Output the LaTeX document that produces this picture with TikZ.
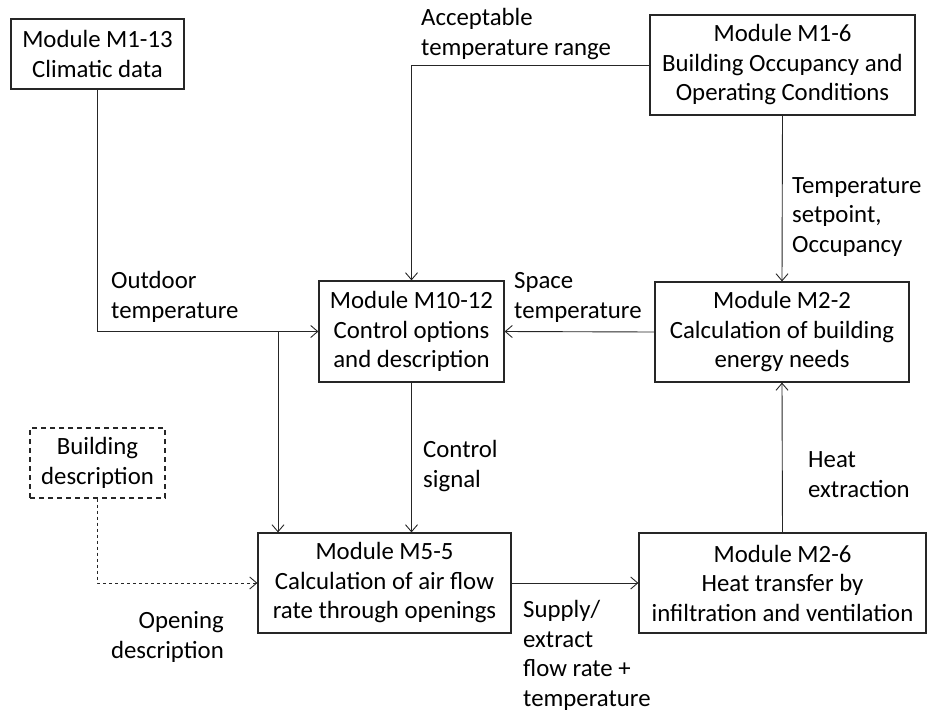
\documentclass[tikz,border=0pt]{standalone}
\usepackage{fontspec}
\setmainfont{Carlito}
\usetikzlibrary{arrows.meta}
\begin{document}
\begin{tikzpicture}[x=1pt,y=-1pt,
  font=\fontsize{24.8}{29.5}\selectfont,
  modbox/.style={draw=black!85,line width=1.2pt,inner sep=0pt,align=center},
  dashbox/.style={modbox,dash pattern=on 5pt off 4pt},
  conn/.style={draw=black!85,line width=0.9pt,-{Straight Barb[length=7pt,width=12pt,line width=0.9pt]}},
  dotconn/.style={conn,dash pattern=on 3pt off 3pt},
  lbl/.style={inner sep=0pt,align=left,anchor=base west},
  lblr/.style={inner sep=0pt,align=right,anchor=base east}]
\useasboundingbox (0,0) rectangle (930,713);
\node[modbox,minimum width=173pt,minimum height=70pt] (m113) at (97.5,54) {Module M1-13\\Climatic data};
\node[modbox,minimum width=265pt,minimum height=100pt] (m16) at (782.5,65) {Module M1-6\\Building Occupancy and\\Operating Conditions};
\node[modbox,minimum width=185pt,minimum height=101pt] (m1012) at (411.5,331.5) {Module M10-12\\Control options\\and description};
\node[modbox,minimum width=254pt,minimum height=100pt] (m22) at (782,332) {Module M2-2\\Calculation of building\\energy needs};
\node[modbox,minimum width=253pt,minimum height=100pt] (m55) at (384.5,583) {Module M5-5\\Calculation of air flow\\rate through openings};
\node[modbox,minimum width=287pt,minimum height=100pt] (m26) at (782.5,583) {Module M2-6\\Heat transfer by\\infiltration and ventilation};
\node[dashbox,minimum width=135pt,minimum height=70pt] (bd) at (97.5,463) {Building\\description};
\coordinate (br) at (278,331.5);
\draw[conn] (m113.south) |- (m1012.west);
\draw[conn] (br) -- (br |- m55.north);
\draw[conn] (m16.west) -| (m1012.north);
\draw[conn] (m16.south) -- (m22.north);
\draw[conn] (m22.west) -- (m1012.east);
\draw[conn] (m1012.south) -- (m1012.south |- m55.north);
\draw[dotconn] (bd.south) |- (m55.west);
\draw[conn] (m55.east) -- (m26.west);
\draw[conn] (m26.north) -- (m22.south);
\node[lbl] (lout) at (111,318) {Outdoor\\temperature};
\node[lbl] (lacc) at (421,55) {Acceptable\\temperature range};
\node[lbl] (lset) at (792,252) {Temperature\\setpoint,\\Occupancy};
\node[lbl] (lspace) at (514,318) {Space\\temperature};
\node[lbl] (lctrl) at (423,487) {Control\\signal};
\node[lbl] (lheat) at (808,497) {Heat\\extraction};
\node[lbl] (lsup) at (523,706) {Supply/\\extract\\flow rate +\\temperature};
\node[lblr] (lopen) at (224,658) {Opening\\description};
\end{tikzpicture}
\end{document}
